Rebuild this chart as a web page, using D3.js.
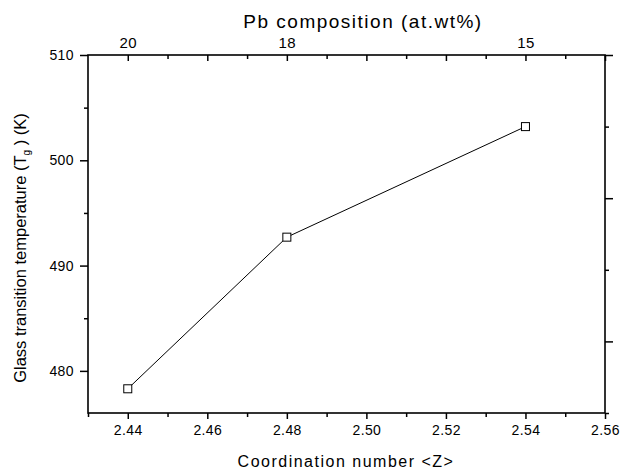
<!DOCTYPE html>
<html>
<head>
<meta charset="utf-8">
<script src="https://cdn.jsdelivr.net/npm/d3@7"></script>
<style>
  html, body { margin: 0; padding: 0; background: #fff; }
  svg { display: block; }
  text { font-family: "Liberation Sans", Arial, sans-serif; fill: #000; }
</style>
</head>
<body>
<svg id="chart" width="620" height="471"></svg>
<script>
// Coordination number <Z> and measured glass transition temperature Tg (K)
const coordination = [2.44, 2.48, 2.54];
const tg = [478.3, 492.7, 503.2];

// Pb composition (at.wt%) shown on the top axis at the matching <Z>
const pbZ = [2.44, 2.48, 2.54];
const pbLabels = ["20", "18", "15"];

// Tick values
const xMajor = [2.44, 2.46, 2.48, 2.50, 2.52, 2.54, 2.56];
const xMinor = [2.43, 2.45, 2.47, 2.49, 2.51, 2.53, 2.55];
const yMajor = [480, 490, 500, 510];
const yMinor = [485, 495, 505];
const rMajor = [0.5, 1.5, 2.5];
const rMinor = [0, 1, 2];

const svg = d3.select("#chart");
const mLeft = 88, mRight = 605, mTop = 55, mBottom = 413;

const x = d3.scaleLinear().domain([2.43, 2.56]).range([mLeft, mRight]);
const y = d3.scaleLinear().domain([476, 510]).range([mBottom, mTop]);
const yR = d3.scaleLinear().domain([0, 2.5]).range([mBottom, mTop]);

function styleAxis(g) {
  g.select(".domain").remove();
  g.selectAll("line").attr("stroke", "#000").attr("stroke-width", 1.5);
  g.selectAll("text").style("font-size", "14px").style("letter-spacing", "0.4px").attr("fill", "#000");
}

// Bottom axis
svg.append("g").attr("transform", `translate(0,${mBottom})`)
  .call(d3.axisBottom(x).tickValues(xMajor).tickFormat(d3.format(".2f")).tickSize(6).tickPadding(6))
  .call(styleAxis);
svg.append("g").attr("transform", `translate(0,${mBottom})`)
  .call(d3.axisBottom(x).tickValues(xMinor).tickFormat("").tickSize(4))
  .call(styleAxis);

// Top axis (ticks point into the plot)
svg.append("g").attr("transform", `translate(0,${mTop})`)
  .call(d3.axisTop(x).tickValues(xMajor).tickFormat("").tickSizeInner(-6).tickSizeOuter(0))
  .call(styleAxis);
svg.append("g").attr("transform", `translate(0,${mTop})`)
  .call(d3.axisTop(x).tickValues(xMinor.filter(v => v > 2.43)).tickFormat("").tickSizeInner(-4).tickSizeOuter(0))
  .call(styleAxis);
svg.append("g").attr("transform", `translate(0,${mTop - 3})`)
  .call(d3.axisTop(x).tickValues(pbZ).tickFormat((d, i) => pbLabels[i]).tickSize(0).tickPadding(4))
  .call(styleAxis)
  .selectAll("text").style("font-size", "15px");

// Left axis
svg.append("g").attr("transform", `translate(${mLeft},0)`)
  .call(d3.axisLeft(y).tickValues(yMajor).tickSize(8).tickPadding(6))
  .call(styleAxis);
svg.append("g").attr("transform", `translate(${mLeft},0)`)
  .call(d3.axisLeft(y).tickValues(yMinor).tickFormat("").tickSize(4))
  .call(styleAxis);

// Right axis (unlabelled)
svg.append("g").attr("transform", `translate(${mRight},0)`)
  .call(d3.axisRight(yR).tickValues(rMajor).tickFormat("").tickSize(8))
  .call(styleAxis);
svg.append("g").attr("transform", `translate(${mRight},0)`)
  .call(d3.axisRight(yR).tickValues(rMinor).tickFormat("").tickSize(4))
  .call(styleAxis);

// Frame
svg.append("rect")
  .attr("x", mLeft).attr("y", mTop)
  .attr("width", mRight - mLeft).attr("height", mBottom - mTop)
  .attr("fill", "none").attr("stroke", "#000").attr("stroke-width", 1.6);

// Data line and square markers
const pts = coordination.map((c, i) => [c, tg[i]]);
svg.append("path")
  .datum(pts)
  .attr("fill", "none").attr("stroke", "#000").attr("stroke-width", 1)
  .attr("d", d3.line().x(d => x(d[0])).y(d => y(d[1])));

const s = 8;
svg.selectAll("rect.pt").data(pts).enter().append("rect")
  .attr("class", "pt")
  .attr("x", d => x(d[0]) - s / 2).attr("y", d => y(d[1]) - s / 2)
  .attr("width", s).attr("height", s)
  .attr("fill", "#fff").attr("stroke", "#000").attr("stroke-width", 1);

// Axis titles
svg.append("text")
  .attr("x", 363).attr("y", 28)
  .attr("text-anchor", "middle")
  .style("font-size", "19px")
  .style("letter-spacing", "1.5px")
  .text("Pb composition (at.wt%)");

svg.append("text")
  .attr("x", 346).attr("y", 467)
  .attr("text-anchor", "middle")
  .style("font-size", "16px")
  .style("letter-spacing", "1.5px")
  .text("Coordination number <Z>");

const yt = svg.append("text")
  .attr("transform", "translate(26,248) rotate(-90)")
  .attr("text-anchor", "middle")
  .style("font-size", "16.5px");
yt.append("tspan").text("Glass transition temperature (T");
yt.append("tspan").attr("dy", 4).style("font-size", "10px").text("g");
yt.append("tspan").attr("dy", -4).text(" ) (K)");
</script>
</body>
</html>
